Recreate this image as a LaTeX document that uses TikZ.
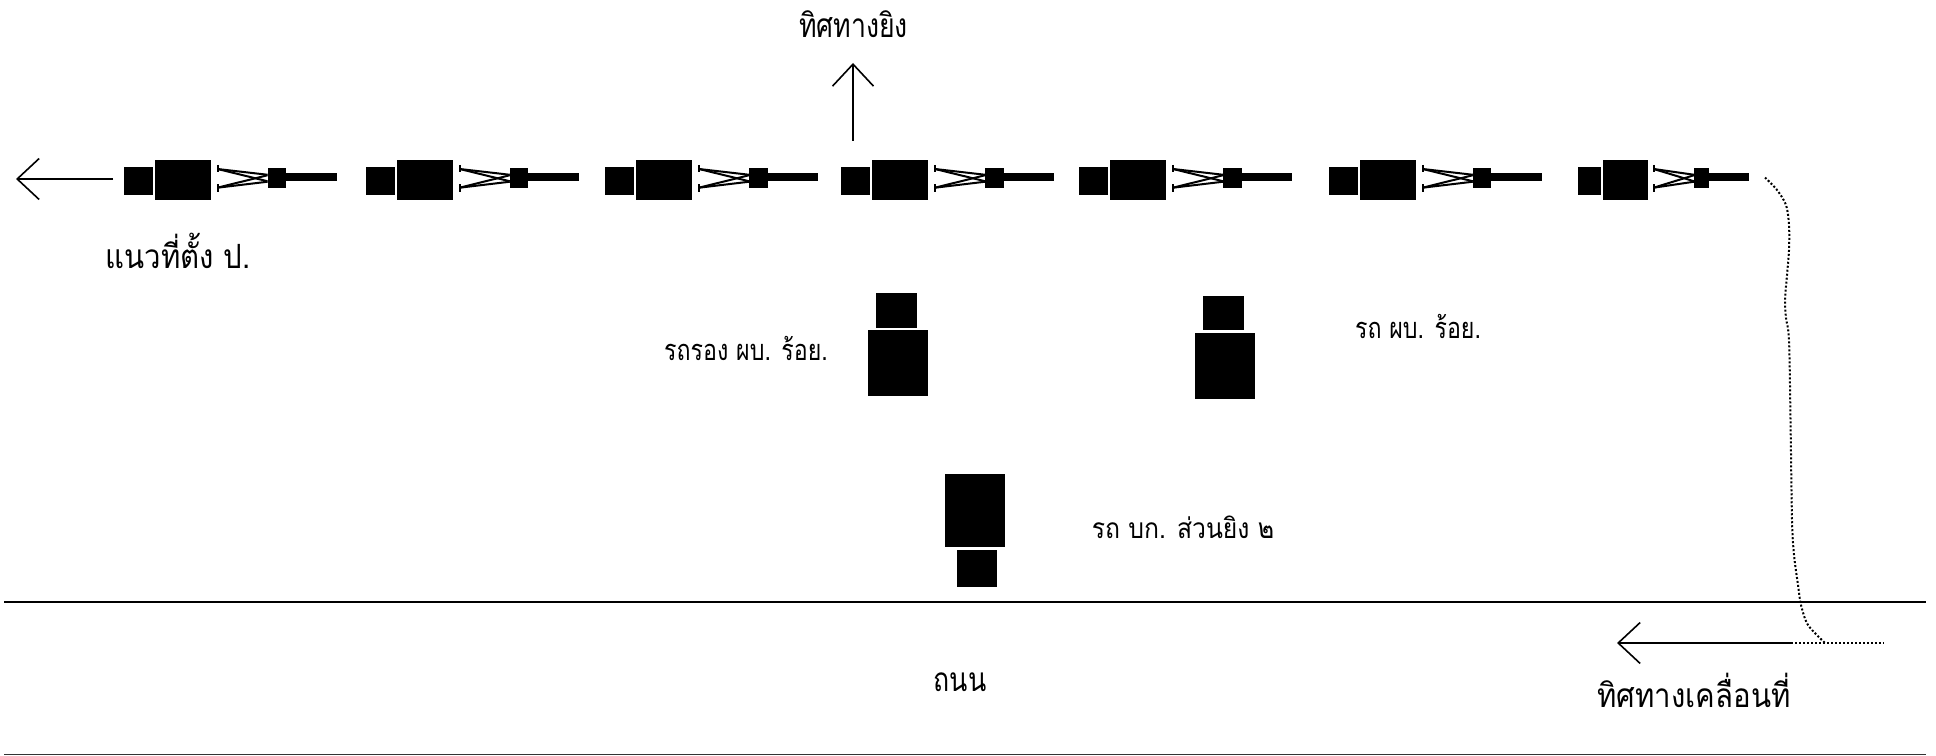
\documentclass[tikz,border=0pt]{standalone}
\usepackage{fontspec}
\usepackage{tikz}
\usetikzlibrary{arrows.meta}
\newfontfamily\thaifont[Script=Thai,FakeStretch=0.8]{Loma}
\newfontfamily\thaiwide[Script=Thai,FakeStretch=0.88]{Loma}
\tikzset{
  block/.style={fill=black,inner sep=0pt,outer sep=0pt,anchor=north west},
  trail/.style={line width=0.04cm},
  line/.style={line width=0.036cm},
  dir/.style={line width=0.032cm,-{Straight Barb[length=0.44cm,width=0.82cm,line width=0.032cm]}},
  dots/.style={line width=0.04cm,dash pattern=on 0.04cm off 0.04cm},
  bigtext/.style={anchor=base,inner sep=0pt,font=\thaifont\fontsize{19pt}{22pt}\selectfont},
  widetext/.style={anchor=base,inner sep=0pt,font=\thaiwide\fontsize{19pt}{22pt}\selectfont},
  smalltext/.style={anchor=base,inner sep=0pt,font=\thaifont\fontsize{16.5pt}{19pt}\selectfont}
}
\begin{document}
\begin{tikzpicture}[x=0.02cm,y=-0.02cm]
\useasboundingbox (0,0) rectangle (1936,756);
% guns in line
\foreach \n/\x/\s in {ga/123.5/1,gb/365.7/1,gc/605/1,gd/841/1,ge/1079/1,gf/1328.7/1,gg/1578/0.805}{
\node[block,minimum width={29*\s*0.02cm},minimum height=0.56cm] (\n-truck) at (\x,167) {};
\node[block,minimum width={56*\s*0.02cm},minimum height=0.8cm] (\n-body) at ({\x+31*\s},160) {};
\node[block,minimum width={18.5*\s*0.02cm},minimum height=0.41cm] (\n-shield) at ({\x+144*\s},168) {};
\node[block,minimum width={50.5*\s*0.02cm},minimum height=0.17cm] (\n-barrel) at ({\x+162.5*\s},173) {};
\coordinate (\n-sa) at ({\x+94*\s},169);
\coordinate (\n-sb) at ({\x+94*\s},187.7);
\draw[trail] (\n-sa) -- ([yshift=0.07cm]\n-shield.west);
\draw[trail] (\n-sa) -- ([yshift=-0.06cm]\n-shield.west);
\draw[trail] (\n-sb) -- ([yshift=0.06cm]\n-shield.west);
\draw[trail] (\n-sb) -- ([yshift=-0.07cm]\n-shield.west);
\draw[trail] ([yshift=0.08cm]\n-sa) -- ([yshift=-0.07cm]\n-sa);
\draw[trail] ([yshift=0.07cm]\n-sb) -- ([yshift=-0.08cm]\n-sb);
}
% vehicles behind the line
\node[block,minimum width=0.82cm,minimum height=0.69cm] (cartop) at (876,293.3) {};
\node[block,minimum width=1.19cm,minimum height=1.32cm] (carbody) at (868,330) {};
\node[block,minimum width=0.81cm,minimum height=0.69cm] (cmdtop) at (1203,296) {};
\node[block,minimum width=1.2cm,minimum height=1.32cm] (cmdbody) at (1194.6,333) {};
\node[block,minimum width=1.19cm,minimum height=1.46cm] (hqbody) at (945,474) {};
\node[block,minimum width=0.8cm,minimum height=0.75cm] (hqtop) at (956.6,549.7) {};
% road
\coordinate (roadal) at (4,602);
\coordinate (roadar) at (1926,602);
\coordinate (roadbl) at (4,754.5);
\coordinate (roadbr) at (1926,754.5);
\draw[line] (roadal) -- (roadar);
\draw[line,black!80] (roadbl) -- (roadbr);
% arrows
\coordinate (linestart) at (113,179);
\coordinate (lineend) at (16,179);
\draw[dir] (linestart) -- (lineend);
\coordinate (firestart) at (853,141);
\coordinate (fireend) at (853,63);
\draw[dir] (firestart) -- (fireend);
\coordinate (movestart) at (1791,643);
\coordinate (moveend) at (1617,643);
\coordinate (movetail) at (1884,643);
\draw[dir] (movestart) -- (moveend);
\draw[dots] (movestart) -- (movetail);
\draw[dots] plot[smooth,tension=0.5] coordinates {(1765,177.5) (1777,190) (1786,205) (1789,225) (1789,250) (1787,275) (1785,300) (1786,318) (1789,340) (1790.5,420) (1792,520) (1794,555) (1798,585) (1801,605) (1808,625) (1825,643)};
% labels
\node[bigtext] (firelabel) at (853.5,38) {ทิศทางยิง};
\node[widetext] (linelabel) at (178,269) {แนวที่ตั้ง ป.};
\node[widetext] (movelabel) at (1694,707) {ทิศทางเคลื่อนที่};
\node[bigtext] (roadlabel) at (960,691) {ถนน};
\node[smalltext] (carlabel) at (746,361) {รถรอง ผบ. ร้อย.};
\node[smalltext] (cmdlabel) at (1418,339) {รถ ผบ. ร้อย.};
\node[anchor=base,inner sep=0pt,font=\thaiwide\fontsize{16pt}{19pt}\selectfont] (hqlabel) at (1183,538) {รถ บก. ส่วนยิง ๒};
\end{tikzpicture}
\end{document}
